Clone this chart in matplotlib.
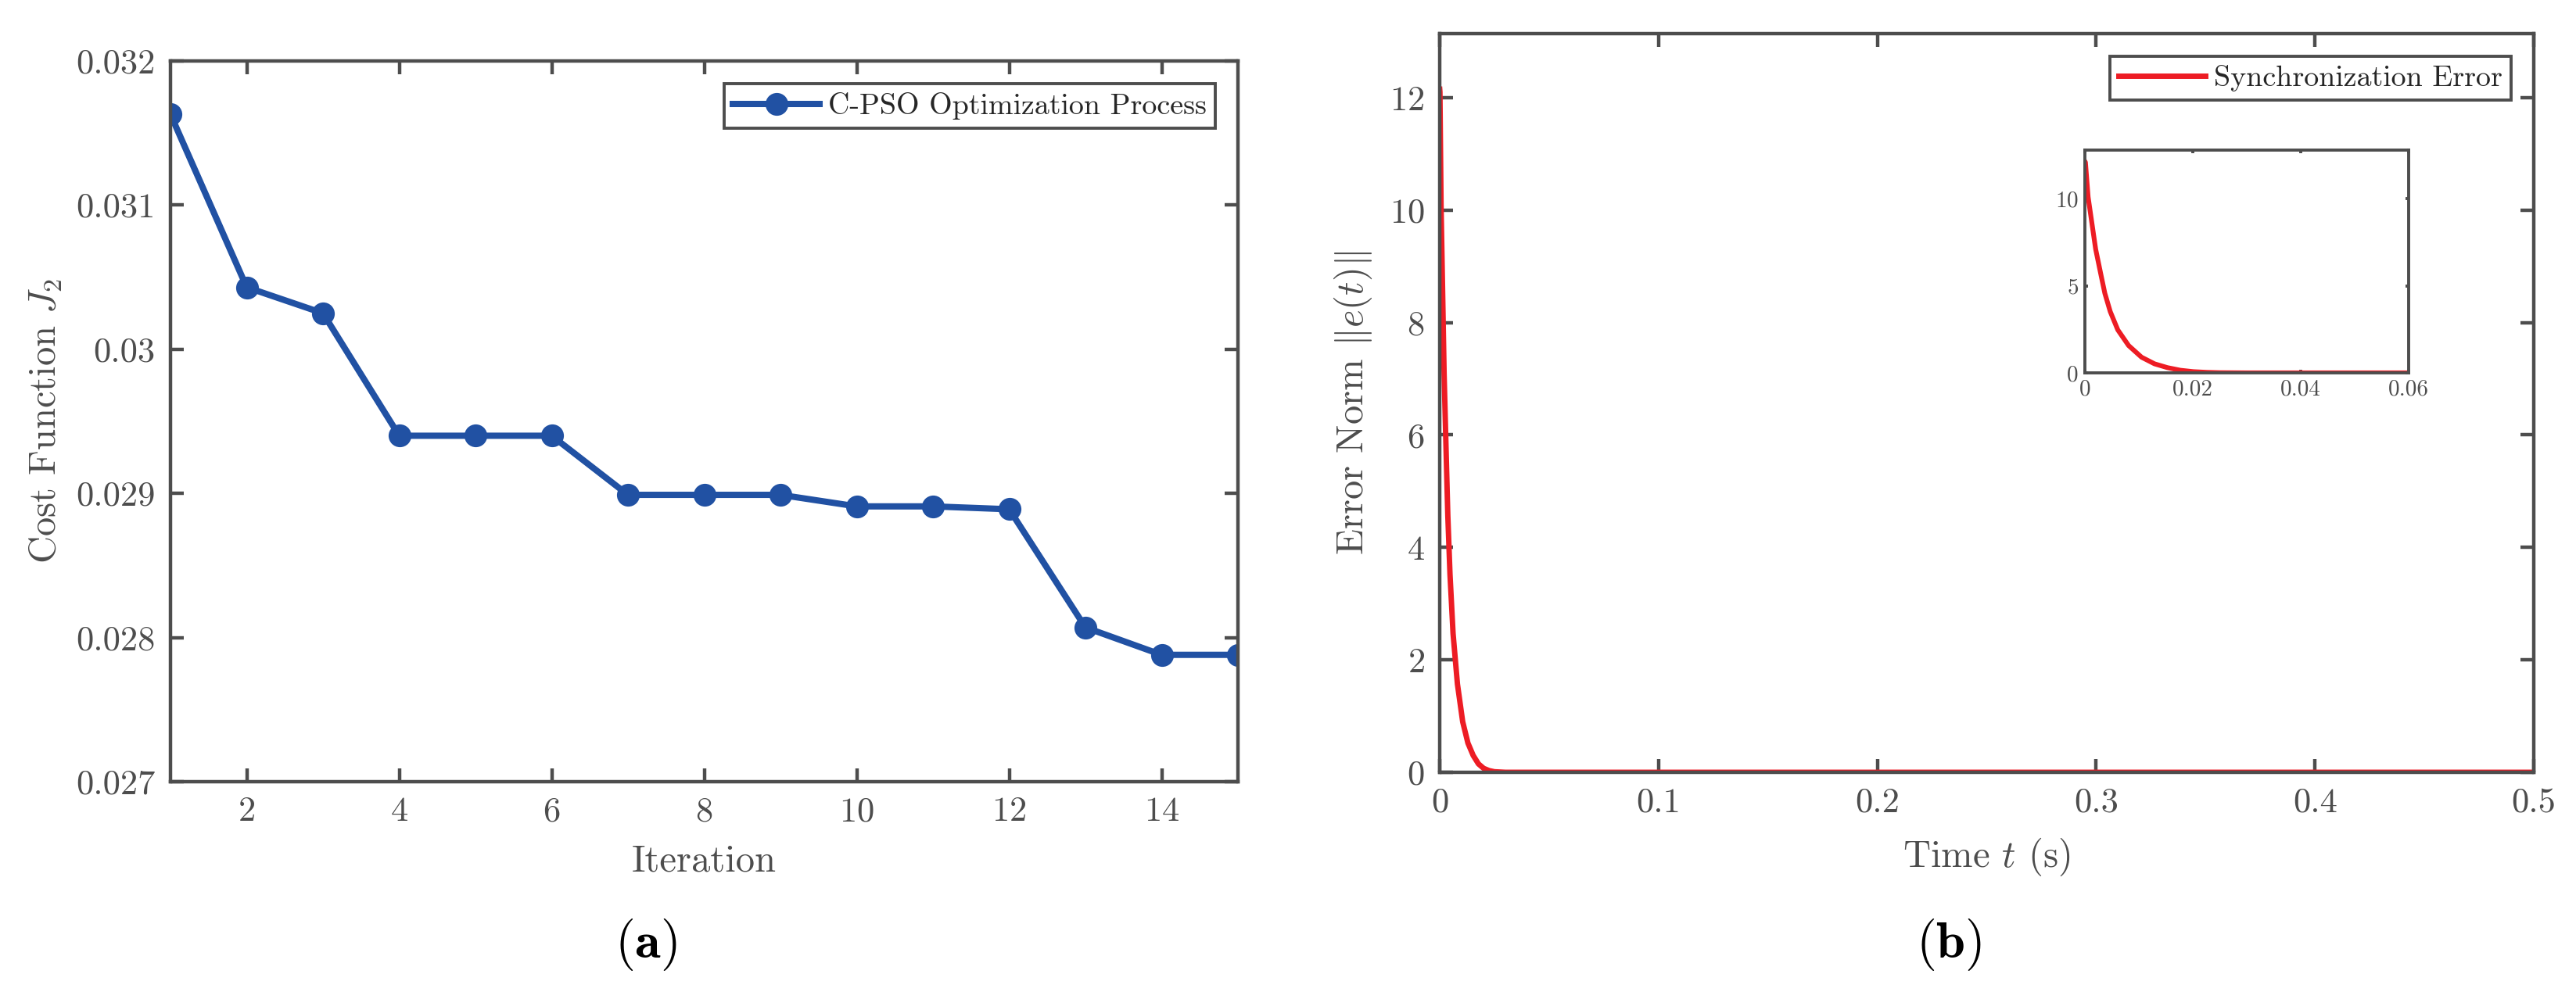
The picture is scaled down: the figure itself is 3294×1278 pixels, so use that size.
import numpy as np
import matplotlib
matplotlib.use("Agg")
import matplotlib.pyplot as plt

plt.rcParams['font.family'] = 'serif'
plt.rcParams['font.serif'] = ['cmr10']
plt.rcParams['mathtext.fontset'] = 'cm'
plt.rcParams['axes.formatter.use_mathtext'] = True

gray = "#4d4d4d"
blue = "#2151a3"
red = "#ed1c24"

# (a) C-PSO cost per iteration
iters = [1, 2, 3, 4, 5, 6, 7, 8, 9, 10, 11, 12, 13, 14, 15]
cost = [0.03163, 0.03043, 0.03025, 0.02940, 0.02940, 0.02940, 0.02899,
        0.02899, 0.02899, 0.02891, 0.02891, 0.02889, 0.02807, 0.02788, 0.02788]
a_xticks = [2, 4, 6, 8, 10, 12, 14]
a_yticks = [0.027, 0.028, 0.029, 0.030, 0.031, 0.032]
a_ylabels = ["0.027", "0.028", "0.029", "0.03", "0.031", "0.032"]

# (b) synchronization error norm
t = [0.0, 0.0001, 0.0006, 0.0013, 0.002, 0.003, 0.0037, 0.0047, 0.0061,
     0.0081, 0.0105, 0.0129, 0.0153, 0.0177, 0.0201, 0.0226, 0.025,
     0.03, 0.06, 0.5]
err = [12.15, 12.1, 10.1, 8.6, 7.1, 5.6, 4.57, 3.52, 2.47,
       1.57, 0.9, 0.52, 0.3, 0.15, 0.07, 0.03, 0.01,
       0.0, 0.0, 0.0]
b_xticks = [0, 0.1, 0.2, 0.3, 0.4, 0.5]
b_xlabels = ["0", "0.1", "0.2", "0.3", "0.4", "0.5"]
b_yticks = [0, 2, 4, 6, 8, 10, 12]
in_xticks = [0, 0.02, 0.04, 0.06]
in_xlabels = ["0", "0.02", "0.04", "0.06"]
in_yticks = [0, 5, 10]

W, H = 3294, 1278
fig = plt.figure(figsize=(W / 200, H / 200), dpi=200)


def px_axes(l, t_, r, b):
    return fig.add_axes([l / W, 1 - b / H, (r - l) / W, (b - t_) / H])


def style(ax, lw=1.6, tl=6, fs=16):
    for s in ax.spines.values():
        s.set_color(gray)
        s.set_linewidth(lw)
    ax.tick_params(direction='in', top=True, right=True, length=tl, width=lw,
                   colors=gray, labelsize=fs, pad=7)


def add_legend(ax):
    leg = ax.legend(loc='upper right', fontsize=13.7, fancybox=False,
                    edgecolor=gray, framealpha=1, borderaxespad=0.75,
                    handlelength=2.9, handletextpad=0.3, borderpad=0.3)
    leg.get_frame().set_linewidth(1.4)
    for txt in leg.get_texts():
        txt.set_color("#262626")


# panel (a)
ax1 = px_axes(218, 78, 1583, 1000)
ax1.plot(iters, cost, color=blue, lw=2.9, marker='o', ms=9.5,
         label="C-PSO Optimization Process")
ax1.set_xlim(1, 15)
ax1.set_ylim(0.027, 0.032)
ax1.set_xticks(a_xticks)
ax1.set_yticks(a_yticks)
ax1.set_yticklabels(a_ylabels)
style(ax1)
ax1.set_xlabel("Iteration", fontsize=17.5, color=gray)
ax1.set_ylabel("Cost Function $J_2$", fontsize=17.5, color=gray)
ax1.xaxis.set_label_coords(0.5, -0.087)
ax1.yaxis.set_label_coords(-0.0996, 0.5)
add_legend(ax1)

# panel (b)
ax2 = px_axes(1841, 43, 3240, 988)
ax2.plot(t, err, color=red, lw=2.5, label="Synchronization Error")
ax2.set_xlim(0, 0.5)
ax2.set_ylim(0, 13.14)
ax2.set_xticks(b_xticks)
ax2.set_xticklabels(b_xlabels)
ax2.set_yticks(b_yticks)
style(ax2)
ax2.set_xlabel("Time $t$ (s)", fontsize=17.5, color=gray)
ax2.set_ylabel(r"Error Norm $\|e(t)\|$", fontsize=17.5, color=gray)
ax2.xaxis.set_label_coords(0.5, -0.087)
ax2.yaxis.set_label_coords(-0.060, 0.5)
add_legend(ax2)

# inset of (b)
ax3 = px_axes(2666, 192, 3080, 477)
ax3.plot(t, err, color=red, lw=2.2)
ax3.set_xlim(0, 0.06)
ax3.set_ylim(0, 12.8)
ax3.set_xticks(in_xticks)
ax3.set_xticklabels(in_xlabels)
ax3.set_yticks(in_yticks)
style(ax3, lw=1.4, tl=1.6, fs=10.5)
ax3.tick_params(pad=3)

fig.text(826 / W, 1 - 1208 / H, r"($\mathbf{a}$)", fontsize=24,
         ha='center', va='center', color='black')
fig.text(2492 / W, 1 - 1208 / H, r"($\mathbf{b}$)", fontsize=24,
         ha='center', va='center', color='black')

fig.savefig("out.png", dpi=200, facecolor='white')
